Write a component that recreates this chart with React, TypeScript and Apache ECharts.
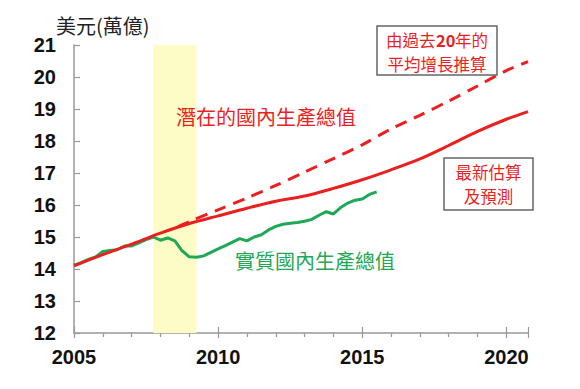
import React, { useEffect, useRef } from 'react';
import * as echarts from 'echarts';

// Potential GDP (latest estimate & projection), trillions USD
const potentialYears = [2005, 2006, 2007, 2008, 2009, 2010, 2011, 2012, 2013, 2014, 2015, 2016, 2017, 2018, 2019, 2020, 2020.75];
const potentialValues = [14.1, 14.45, 14.78, 15.12, 15.42, 15.66, 15.9, 16.12, 16.28, 16.52, 16.79, 17.1, 17.44, 17.86, 18.3, 18.68, 18.92];

// Extrapolation from 20-year average growth
const trendYears = [2008.6, 2009, 2010, 2011, 2012, 2013, 2014, 2015, 2016, 2017, 2018, 2019, 2020, 2020.75];
const trendValues = [15.32, 15.48, 15.85, 16.22, 16.61, 17.03, 17.45, 17.88, 18.38, 18.8, 19.25, 19.72, 20.2, 20.48];

// Real GDP, quarterly
const realQuarters = [
  2005, 2005.25, 2005.5, 2005.75, 2006, 2006.25, 2006.5, 2006.75,
  2007, 2007.25, 2007.5, 2007.75, 2008, 2008.25, 2008.5, 2008.75,
  2009, 2009.25, 2009.5, 2009.75, 2010, 2010.25, 2010.5, 2010.75,
  2011, 2011.25, 2011.5, 2011.75, 2012, 2012.25, 2012.5, 2012.75,
  2013, 2013.25, 2013.5, 2013.75, 2014, 2014.25, 2014.5, 2014.75,
  2015, 2015.25, 2015.5,
];
const realValues = [
  14.12, 14.2, 14.3, 14.38, 14.55, 14.58, 14.6, 14.72,
  14.72, 14.82, 14.92, 15.0, 14.9, 14.97, 14.88, 14.57,
  14.38, 14.37, 14.41, 14.52, 14.63, 14.73, 14.84, 14.95,
  14.88, 15.0, 15.07, 15.22, 15.33, 15.4, 15.43, 15.45,
  15.49, 15.55, 15.68, 15.79, 15.72, 15.92, 16.06, 16.15,
  16.19, 16.33, 16.41,
];

const recessionSpan = [2007.75, 2009.25];

const RED = '#ea1f1f';
const GREEN = '#1fa855';
const CJK = '"Noto Sans CJK TC", "Noto Sans CJK JP", "Noto Sans CJK SC", sans-serif';
const NUM = '"Liberation Sans", Arial, sans-serif';

export default function App() {
  const ref = useRef<HTMLDivElement>(null);
  useEffect(() => {
    if (!ref.current) return;
    const chart = echarts.init(ref.current, null, { renderer: 'svg' });
    const pair = (xs: number[], ys: number[]) => xs.map((x, i) => [x, ys[i]]);
    const boxText = (text: string, x: number, y: number, bold = false, align = 'left') => ({
      type: 'text',
      x,
      y,
      z: 30,
      style: {
        text,
        align,
        verticalAlign: 'middle',
        fontSize: 16.5,
        lineHeight: 18,
        fontWeight: bold ? 'bold' : 'normal',
        fill: RED,
        fontFamily: CJK,
      },
    });
    chart.setOption({
      animation: false,
      backgroundColor: '#ffffff',
      grid: { left: 74, right: 52, top: 45, bottom: 56 },
      xAxis: [
        {
          type: 'value',
          position: 'bottom',
          min: 2005,
          max: 2020.75,
          interval: 5,
          axisLine: { show: true, lineStyle: { color: '#999', width: 1.5 } },
          axisTick: { show: true, length: 5, lineStyle: { color: '#999', width: 1.2 } },
          minorTick: { show: true, splitNumber: 5, length: 4, lineStyle: { color: '#999', width: 1.2 } },
          splitLine: { show: false },
          axisLabel: {
            margin: 14,
            fontSize: 20,
            fontWeight: 'bold',
            color: '#111',
            fontFamily: NUM,
            showMaxLabel: false,
            formatter: (v: number) => String(Math.round(v)),
          },
        },
        {
          type: 'value',
          position: 'bottom',
          min: 2005,
          max: 2020.75,
          interval: 5,
          axisLine: { show: false },
          axisTick: { show: true, inside: true, length: 6, lineStyle: { color: '#999', width: 1.2 } },
          axisLabel: { show: false },
          splitLine: { show: false },
        },
      ],
      yAxis: {
        type: 'value',
        min: 12,
        max: 21,
        interval: 1,
        axisLine: { show: true, lineStyle: { color: '#999', width: 1.5 } },
        axisTick: { show: true, inside: true, length: 6, lineStyle: { color: '#999', width: 1.2 } },
        splitLine: { show: false },
        axisLabel: {
          margin: 18,
          fontSize: 20,
          fontWeight: 'bold',
          color: '#111',
          fontFamily: NUM,
        },
      },
      series: [
        {
          type: 'line',
          name: 'recession',
          data: [[recessionSpan[0], 12]],
          symbol: 'none',
          lineStyle: { opacity: 0 },
          z: 1,
          silent: true,
          markArea: {
            silent: true,
            itemStyle: { color: '#fdfcc6' },
            data: [[{ xAxis: recessionSpan[0] }, { xAxis: recessionSpan[1] }]],
          },
        },
        {
          type: 'line',
          name: '實質國內生產總值',
          data: pair(realQuarters, realValues),
          symbol: 'none',
          lineStyle: { color: GREEN, width: 3 },
          z: 3,
        },
        {
          type: 'line',
          name: '平均增長推算',
          data: pair(trendYears, trendValues),
          symbol: 'none',
          smooth: 0.3,
          lineStyle: { color: RED, width: 3, type: [12, 8] },
          z: 4,
        },
        {
          type: 'line',
          name: '潛在的國內生產總值',
          data: pair(potentialYears, potentialValues),
          symbol: 'none',
          smooth: 0.3,
          lineStyle: { color: RED, width: 3 },
          z: 5,
        },
      ],
      graphic: [
        {
          type: 'text',
          left: 56,
          top: 15,
          z: 30,
          style: { text: '美元(萬億)', fontSize: 20, fill: '#222', fontFamily: CJK },
        },
        {
          type: 'text',
          left: 176,
          top: 106,
          z: 30,
          style: { text: '潛在的國內生產總值', fontSize: 20, fill: RED, fontFamily: CJK },
        },
        {
          type: 'text',
          left: 235,
          top: 250,
          z: 30,
          style: { text: '實質國內生產總值', fontSize: 20, fill: GREEN, fontFamily: CJK },
        },
        {
          type: 'rect',
          shape: { x: 377, y: 26, width: 120, height: 49 },
          style: { fill: '#fff', stroke: '#666', lineWidth: 1.5 },
          z: 20,
        },
        boxText('由過去', 386, 39.5),
        boxText('20', 436, 39.5, true),
        boxText('年的', 455, 39.5),
        boxText('平均增長推算', 437, 64, false, 'center'),
        {
          type: 'rect',
          shape: { x: 444, y: 158, width: 89, height: 52 },
          style: { fill: '#fff', stroke: '#666', lineWidth: 1.5 },
          z: 20,
        },
        boxText('最新估算', 488.5, 171.5, false, 'center'),
        boxText('及預測', 488.5, 196, false, 'center'),
      ],
    });
    return () => chart.dispose();
  }, []);
  return (
    <div
      ref={ref}
      style={{ position: 'absolute', left: 0, top: 0, width: 580, height: 389 }}
    />
  );
}
